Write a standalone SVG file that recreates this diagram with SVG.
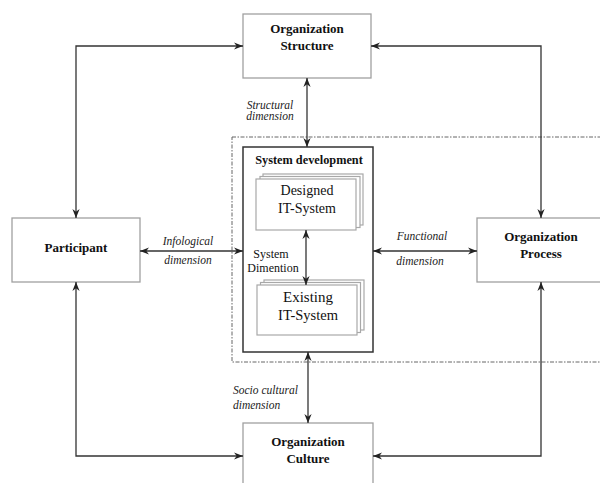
<svg xmlns="http://www.w3.org/2000/svg" width="600" height="483" viewBox="0 0 600 483">
<style>
.box{fill:#fff;stroke:#a0a0a0;stroke-width:1.3}
.page{fill:#fff;stroke:#a8a8a8;stroke-width:1.2}
.title{font-family:"Liberation Serif","Times New Roman",serif;font-weight:bold;font-size:13px;fill:#111;text-anchor:middle}
.reg{font-family:"Liberation Serif","Times New Roman",serif;font-size:14px;fill:#111;text-anchor:middle}
.lab{font-family:"Liberation Serif","Times New Roman",serif;font-style:italic;font-size:11.5px;fill:#222}
.con{fill:none;stroke:#333;stroke-width:1.3;marker-start:url(#ah);marker-end:url(#ah)}
</style>
<defs>
<marker id="ah" viewBox="0 0 10 10" refX="10" refY="5" markerWidth="9" markerHeight="9" markerUnits="userSpaceOnUse" orient="auto-start-reverse">
<path d="M0,1 L10,5 L0,9 L3,5 z" fill="#222"/>
</marker>
</defs>
<rect x="232" y="137" width="380" height="225" fill="none" stroke="#666" stroke-width="1" stroke-dasharray="4,1.5,1.5,1.5"/>
<g id="org-structure">
<rect class="box" x="243" y="14" width="128" height="64"/>
<text class="title" x="307" y="33">Organization</text>
<text class="title" x="307" y="50">Structure</text>
</g>
<g id="participant">
<rect class="box" x="12" y="218" width="128" height="64"/>
<text class="title" x="76" y="252">Participant</text>
</g>
<g id="org-process">
<rect class="box" x="477" y="218" width="128" height="64"/>
<text class="title" x="541" y="241">Organization</text>
<text class="title" x="541" y="258">Process</text>
</g>
<g id="org-culture">
<rect class="box" x="243" y="423" width="130" height="64"/>
<text class="title" x="308" y="446">Organization</text>
<text class="title" x="308" y="463">Culture</text>
</g>
<g id="system-development">
<rect x="243" y="147" width="130" height="205" fill="#fff" stroke="#333" stroke-width="1.5"/>
<text x="309" y="164" style="font-family:'Liberation Serif','Times New Roman',serif;font-weight:bold;font-size:12.3px;fill:#111;text-anchor:middle">System development</text>
</g>
<g id="designed-it-system">
<rect class="page" x="263" y="174" width="100" height="51"/>
<rect class="page" x="260" y="176.5" width="100" height="51"/>
<rect class="page" x="256" y="179" width="100" height="51"/>
<text class="reg" x="307" y="195">Designed</text>
<text class="reg" x="307" y="213">IT-System</text>
</g>
<g id="existing-it-system">
<rect class="page" x="264" y="280" width="100" height="50"/>
<rect class="page" x="260.5" y="282.5" width="100" height="50"/>
<rect class="page" x="257" y="285" width="100" height="50"/>
<text class="reg" x="308" y="302" style="font-size:15px">Existing</text>
<text class="reg" x="308" y="320" style="font-size:14.5px">IT-System</text>
</g>
<g id="connectors">
<polyline class="con" points="243,46 76,46 76,218"/>
<polyline class="con" points="371,46 541,46 541,218"/>
<polyline class="con" points="76,282 76,456 243,456"/>
<polyline class="con" points="541,282 541,456 373,456"/>
<line class="con" x1="307" y1="78" x2="307" y2="147"/>
<line class="con" x1="308" y1="352" x2="308" y2="423"/>
<line class="con" x1="140" y1="251" x2="243" y2="251"/>
<line class="con" x1="373" y1="251" x2="477" y2="251"/>
<line class="con" x1="306" y1="230" x2="306" y2="285"/>
</g>
<g id="labels">
<text class="lab" x="270" y="109" text-anchor="middle">Structural</text>
<text class="lab" x="270" y="120" text-anchor="middle">dimension</text>
<text class="lab" x="188" y="245" text-anchor="middle">Infological</text>
<text class="lab" x="188" y="264" text-anchor="middle">dimension</text>
<text class="lab" x="422" y="240" text-anchor="middle">Functional</text>
<text class="lab" x="420" y="265" text-anchor="middle">dimension</text>
<text class="lab" x="233" y="394">Socio cultural</text>
<text class="lab" x="233" y="409">dimension</text>
<text x="271" y="258" style="font-family:'Liberation Serif','Times New Roman',serif;font-size:12px;fill:#111;text-anchor:middle">System</text>
<text x="273" y="272" style="font-family:'Liberation Serif','Times New Roman',serif;font-size:12px;fill:#111;text-anchor:middle">Dimention</text>
</g>
</svg>
